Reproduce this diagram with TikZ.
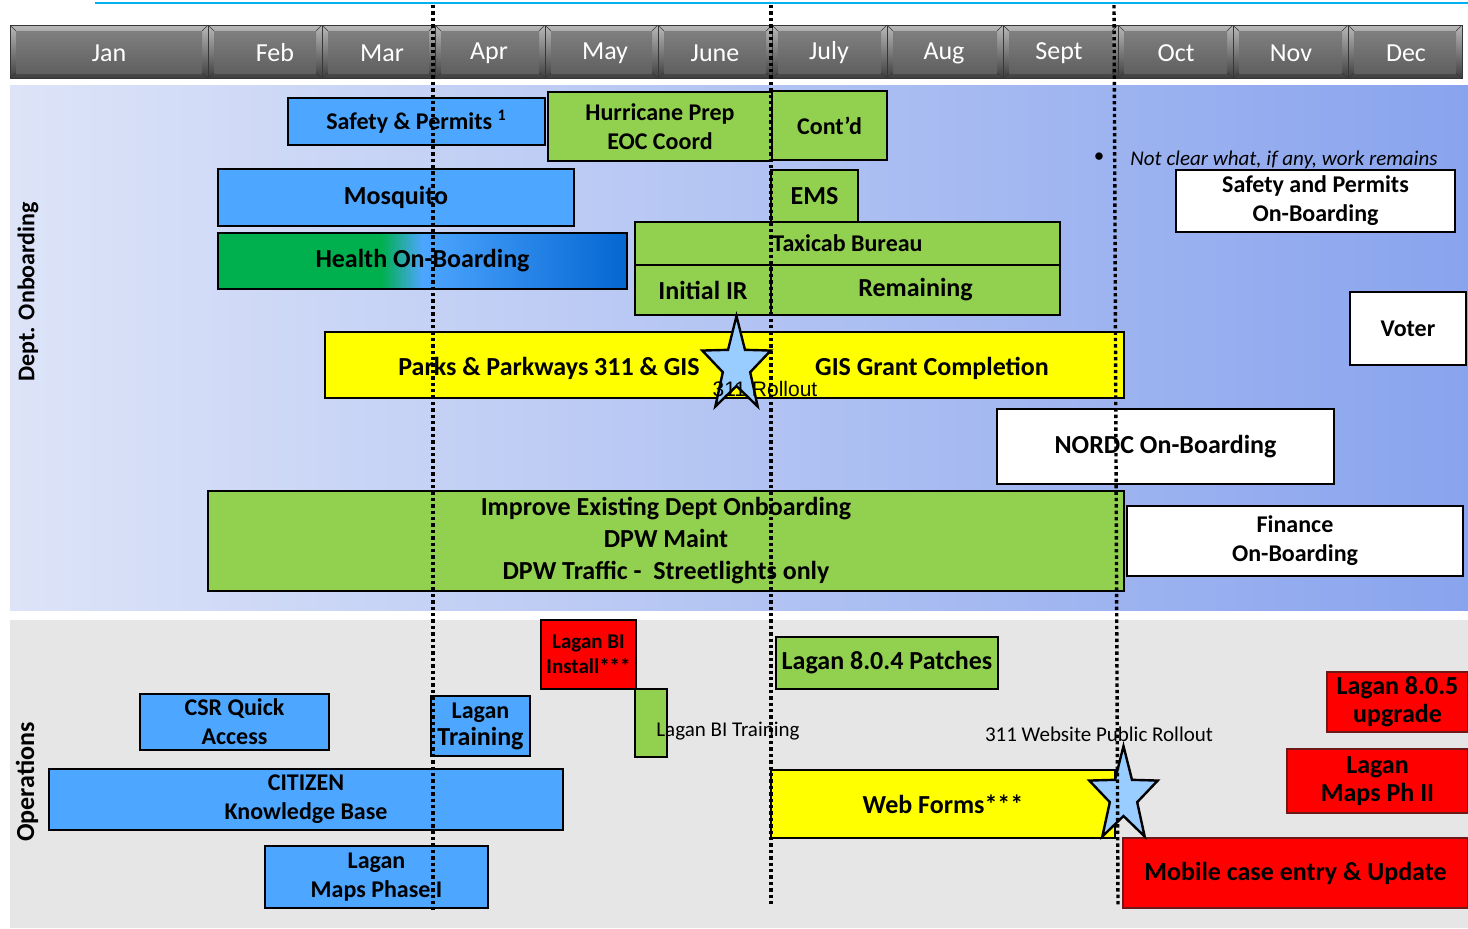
\documentclass[tikz,border=0pt]{standalone}
\usepackage{fontspec}
\setmainfont{Carlito}
\newfontfamily\arialfont{Liberation Sans}
\usepackage{tikz}
\usetikzlibrary{positioning,shapes.geometric}

\definecolor{barblue}{RGB}{77,166,255}
\definecolor{bargreen}{RGB}{146,208,80}
\definecolor{baryellow}{RGB}{255,255,0}
\definecolor{barred}{RGB}{255,0,0}
\definecolor{redrim}{RGB}{110,25,25}
\definecolor{starblue}{RGB}{153,204,255}
\definecolor{panelleft}{RGB}{221,228,248}
\definecolor{panelright}{RGB}{137,164,238}
\definecolor{opsgray}{RGB}{230,230,230}
\definecolor{toprule}{RGB}{0,176,240}
\definecolor{monthhi}{RGB}{185,185,185}
\definecolor{monthlo}{RGB}{62,62,62}
\definecolor{facehi}{RGB}{132,132,132}
\definecolor{facelo}{RGB}{92,92,92}
\definecolor{monthedge}{RGB}{55,55,55}

\pgfdeclarehorizontalshading{healthshade}{100bp}{rgb(0bp)=(0,0.69,0.31); rgb(45bp)=(0,0.69,0.31); rgb(50bp)=(0.3,0.65,1); rgb(75bp)=(0.02,0.4,0.82); rgb(100bp)=(0.02,0.4,0.82)}

\newcommand{\barbig}{\bfseries\fontsize{13}{16}\selectfont}
\newcommand{\barmid}{\bfseries\fontsize{12}{14.5}\selectfont}
\newcommand{\barnote}{\fontsize{10.5}{12.5}\selectfont}

\tikzset{
  month/.style={draw=monthedge, line width=0.4pt, top color=monthhi, bottom color=monthlo,
    minimum height=26.5pt, inner sep=0pt,
    path picture={
      \fill[top color=facehi, bottom color=facelo]
        ([shift={(3pt,-3pt)}]path picture bounding box.north west) rectangle
        ([shift={(-3pt,2.5pt)}]path picture bounding box.south east);
      \draw[monthedge, line width=0.3pt]
        (path picture bounding box.north west) -- ++(3pt,-3pt)
        (path picture bounding box.north east) -- ++(-3pt,-3pt)
        (path picture bounding box.south west) -- ++(3pt,2.5pt)
        (path picture bounding box.south east) -- ++(-3pt,2.5pt);
    }},
  monthlbl/.style={text=white, font=\fontsize{13}{15}\selectfont},
  bar/.style={draw, line width=1pt, inner sep=0pt, align=center, font=\barbig},
  bluebar/.style={bar, fill=barblue},
  greenbar/.style={bar, fill=bargreen},
  yellowbar/.style={bar, fill=baryellow},
  redbar/.style={bar, fill=barred, draw=redrim},
  whitebar/.style={bar, fill=white},
  rollstar/.style={draw, fill=starblue, line width=1.2pt, line join=miter},
  milestone/.style={dash pattern=on 1.7pt off 1.5pt, line width=1.7pt},
}

\begin{document}
\begin{tikzpicture}[x=0.5pt, y=-0.5pt]
      \useasboundingbox (0,0) rectangle (1468,928);
      \draw[toprule, line width=1pt] (95,3) -- (1468,3);
      \fill[left color=panelleft, right color=panelright] (10,85) rectangle (1468,610);
      \fill[opsgray] (10,620) rectangle (1468,928);

      \foreach \m/\xa/\xb/\xl [count=\i] in {Jan/10/208/109, Feb/208/322/275, Mar/322/435/382,
          Apr/435/545/489, May/545/658/605, June/658/772/715, July/772/887/829,
          Aug/887/1003/944, Sept/1003/1118/1059, Oct/1118/1233/1176,
          Nov/1233/1348/1291, Dec/1348/1462/1406}
      {
        \node[month, minimum width={(\xb-\xa)*0.5pt}] (m\i) at ({(\xa+\xb)/2},51.5) {};
        \node[monthlbl] (ml\i) at (\xl,53) {\m};
      }

      \node[rotate=90, font=\barmid] (deptlbl) at (28,292) {Dept. Onboarding};
      \node[rotate=90, font=\barbig] (opslbl) at (27,782) {Operations};

      \node[bluebar, font=\barmid, minimum width=128.5pt, minimum height=23.5pt] (safety)
           at (416.5,121.5) {Safety \& Permits \textsuperscript{1}};
      \node[greenbar, font=\barmid, minimum width=112pt, minimum height=34.5pt] (hurricane)
           at (660,126.5) {Hurricane Prep\\EOC Coord};
      \node[greenbar, font=\barmid, minimum width=57.5pt, minimum height=34.5pt] (contd)
           at (829.5,125.5) {Cont’d};
      \node[bluebar, minimum width=178pt, minimum height=28.5pt] (mosquito)
           at (396,197.5) {Mosquito};
      \node[greenbar, minimum width=43.5pt, minimum height=26pt] (ems)
           at (814.5,196) {EMS};
      \node[bar, shading=healthshade, minimum width=204.5pt, minimum height=28pt] (health)
           at (422.5,261) {Health On-Boarding};
      \node[greenbar, font=\barmid, minimum width=212.5pt, minimum height=21.5pt] (taxicab)
           at (847.5,243.5) {Taxicab Bureau};
      \node[greenbar, minimum width=68pt, minimum height=25pt] (initial)
           at (703,290) {Initial IR};
      \node[greenbar, minimum width=144.5pt, minimum height=25pt] (remaining)
           at (915.5,290) {Remaining};
      \node[yellowbar, minimum width=399.5pt, minimum height=33pt] (parks)
           at (724.5,365) {};
      \node[font=\barbig] (parkslbl) at (549,368) {Parks \& Parkways 311 \& GIS};
      \node[font=\barbig] (grantlbl) at (932,368) {GIS Grant Completion};
      \node[whitebar, minimum width=168.5pt, minimum height=37.5pt] (nordc)
           at (1165.5,446.5) {NORDC On-Boarding};
      \node[greenbar, minimum width=458pt, minimum height=50pt] (improve)
           at (666,541) {Improve Existing Dept Onboarding\\DPW Maint\\DPW Traffic -\ \ Streetlights only};
      \node[whitebar, font=\barmid, minimum width=168pt, minimum height=35pt] (finance)
           at (1295,541) {Finance\\On-Boarding};
      \node[whitebar, font=\barmid, minimum width=139.5pt, minimum height=31pt] (spboard)
           at (1315.5,201) {Safety and Permits\\On-Boarding};
      \node[whitebar, font=\barmid, minimum width=58pt, minimum height=36.5pt] (voter)
           at (1408,328.5) {Voter};
      \node[font=\barnote] (notebullet) at (1099,158) {\textbullet};
      \node[font=\barnote\itshape, anchor=west, inner sep=0pt] (note)
           at (1130,160) {Not clear what, if any, work remains};

      \node[bar, fill=barred, font=\bfseries\fontsize{10.5}{12.5}\selectfont,
           minimum width=47.5pt, minimum height=34.5pt] (biinstall)
           at (588.5,654.5) {Lagan BI\\Install***};
      \node[greenbar, minimum width=16pt, minimum height=34pt] (bitrain) at (651,723) {};
      \node[font=\barnote] (bitrainlbl) at (728,731) {Lagan BI Training};
      \node[greenbar, minimum width=111pt, minimum height=26pt] (patches)
           at (887,663) {Lagan 8.0.4 Patches};
      \node[bluebar, font=\barmid, minimum width=94.5pt, minimum height=28pt] (csr)
           at (234.5,722) {CSR Quick\\Access};
      \node[bluebar, font=\fontsize{13}{13.5}\bfseries\selectfont, minimum width=49.5pt, minimum height=30pt] (lagtrain)
           at (480.5,726) {{\barmid Lagan}\\Training};
      \node[bluebar, font=\barmid, minimum width=257pt, minimum height=30.5pt] (citizen)
           at (306,799.5) {CITIZEN\\Knowledge Base};
      \node[bluebar, font=\barmid, minimum width=111.5pt, minimum height=31pt] (mapsone)
           at (376.5,877) {Lagan\\Maps Phase I};
      \node[yellowbar, minimum width=172pt, minimum height=34pt] (webforms)
           at (943,804) {Web Forms***};
      \node[font=\barnote] (websitelbl) at (1099,734) {311 Website Public Rollout};
      \node[redbar, font=\bfseries\fontsize{13}{14}\selectfont, minimum width=70.5pt, minimum height=30pt] (upgrade)
           at (1397.5,702) {Lagan 8.0.5\\upgrade};
      \node[redbar, font=\bfseries\fontsize{13}{14}\selectfont, minimum width=90.5pt, minimum height=32pt] (mapstwo)
           at (1377.5,781) {Lagan\\Maps Ph II};
      \node[redbar, minimum width=172.5pt, minimum height=35pt] (mobile)
           at (1295.5,873) {Mobile case entry \& Update};

      \draw[rollstar, shift={(736.5,366)}, xscale=0.72] (-90:50)
           \foreach \k in {0,...,4} { -- ({-54+72*\k}:20) -- ({-18+72*\k}:50) } -- cycle;
      \draw[rollstar, shift={(1123.5,796)}, xscale=0.72] (-90:50)
           \foreach \k in {0,...,4} { -- ({-54+72*\k}:20) -- ({-18+72*\k}:50) } -- cycle;
      \node[font=\arialfont\fontsize{10.5}{12}\selectfont] (rolloutlbl) at (765,389) {311 Rollout};

      \draw[milestone] (433,5) -- (433,910);
      \draw[milestone] (771,5) -- (771,905);
      \draw[milestone] (1114,5) -- (1118,905);
\end{tikzpicture}
\end{document}
